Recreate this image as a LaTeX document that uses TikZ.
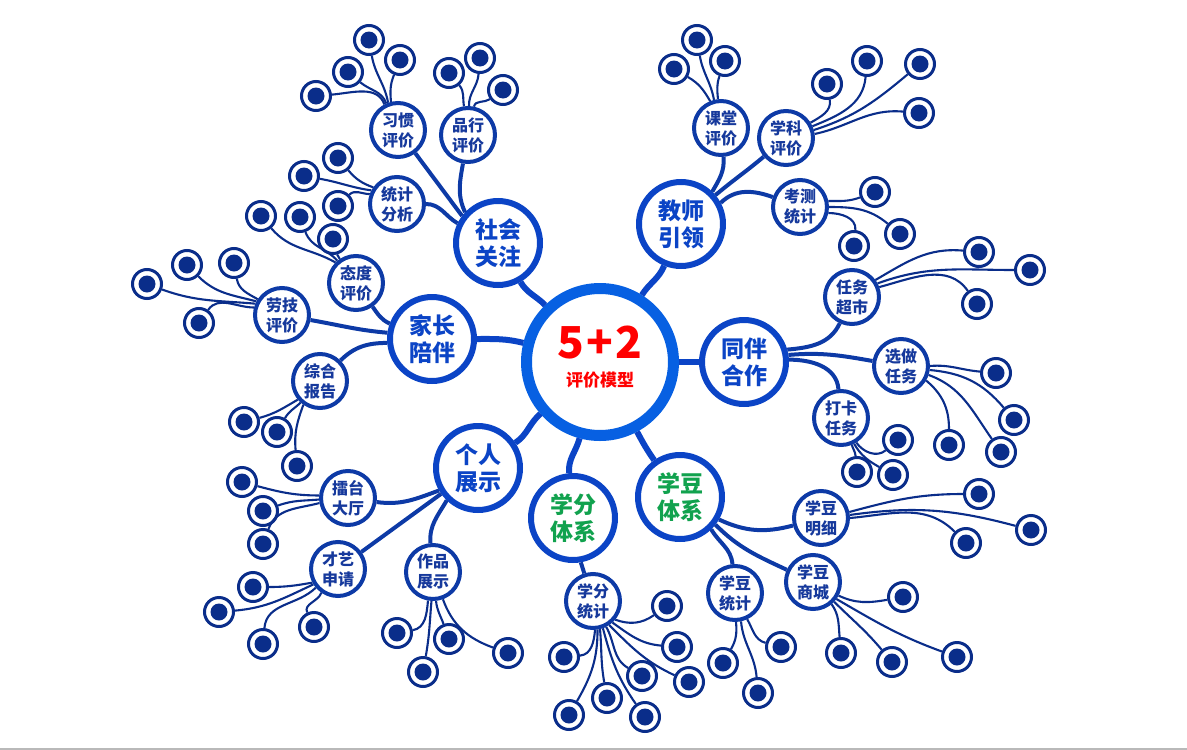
\documentclass[tikz,border=0pt]{standalone}
\usepackage{fontspec}
\setmainfont{Noto Sans CJK SC}
\definecolor{cring}{HTML}{0760E2}
\definecolor{lone}{HTML}{0B44C6}
\definecolor{ltwo}{HTML}{0D3AA6}
\definecolor{ltxt}{HTML}{16399C}
\definecolor{lfc}{HTML}{0A2D8A}
\definecolor{grn}{HTML}{11A24E}
\definecolor{redc}{HTML}{FF0000}
\tikzset{
 centern/.style={circle, draw=cring, line width=11pt, fill=white, minimum size=147pt, inner sep=0pt},
 lvone/.style={circle, draw=lone, line width=6pt, fill=white, minimum size=84pt, inner sep=0pt, align=center, text=lone, font=\fontsize{23}{27}\selectfont\bfseries},
 lvtwo/.style={circle, draw=ltwo, line width=4pt, fill=white, minimum size=54pt, inner sep=0pt, align=center, text=ltxt, font=\fontsize{16}{20}\selectfont\bfseries},
 leafn/.style={circle, draw=lfc, line width=3pt, fill=white, minimum size=29pt, inner sep=0pt, path picture={\fill[lfc] (path picture bounding box.center) circle (8.5pt);}},
 cone/.style={draw=lone, line width=6pt},
 ctwo/.style={draw=ltwo, line width=4pt},
 cthree/.style={draw=lfc, line width=2.1pt},
}
\newcommand\mkleaf[5]{\node[leafn] (#1) at (#2,-#3) {}; \draw[cthree] (#4) to[#5] (#1);}
\begin{document}
\begin{tikzpicture}[x=1pt,y=1pt]
\useasboundingbox (0,0) rectangle (1187,-750);
\draw[gray!55, line width=2pt] (0,-749) -- (1187,-749);
% centre
\node[centern] (c0) at (600,-362) {};
\node[text=redc, font=\fontsize{44}{44}\selectfont\bfseries] (c0a) at (600,-343) {5\kern2pt+\kern2pt2};
\node[text=redc, font=\fontsize{17}{20}\selectfont\bfseries] (c0b) at (600,-380) {评价模型};
% level 1
\node[lvone] (s1) at (498,-243) {社会\\关注};
\node[lvone] (f1) at (432,-339) {家长\\陪伴};
\node[lvone] (t1) at (681,-224) {教师\\引领};
\node[lvone] (w1) at (744,-362) {同伴\\合作};
\node[lvone] (p1) at (478,-468) {个人\\展示};
\node[lvone, text=grn] (x1) at (573,-518) {学分\\体系};
\node[lvone, text=grn] (b1) at (680,-497) {学豆\\体系};
\draw[cone] (c0) to[out=134,in=-60] (s1);
\draw[cone] (c0) to[out=166,in=0] (f1);
\draw[cone] (c0) to[out=58,in=-112] (t1);
\draw[cone] (c0) to[out=0,in=180] (w1);
\draw[cone] (c0) to[out=-139,in=34] (p1);
\draw[cone] (c0) to[out=-105,in=95] (x1);
\draw[cone] (c0) to[out=-62,in=125] (b1);
% level 2
\node[lvtwo] (h) at (398,-130) {习惯\\评价};
\node[lvtwo] (g) at (468,-135) {品行\\评价};
\node[lvtwo] (j) at (397,-204) {统计\\分析};
\node[lvtwo] (d) at (356,-283) {态度\\评价};
\node[lvtwo] (k) at (282,-315) {劳技\\评价};
\node[lvtwo] (z) at (320,-381) {综合\\报告};
\node[lvtwo] (r) at (348,-498) {擂台\\大厅};
\node[lvtwo] (a) at (338,-569) {才艺\\申请};
\node[lvtwo] (q) at (433,-572) {作品\\展示};
\node[lvtwo] (e) at (721,-128) {课堂\\评价};
\node[lvtwo] (m) at (786,-138) {学科\\评价};
\node[lvtwo] (kc) at (800,-207) {考测\\统计};
\node[lvtwo] (u) at (852,-297) {任务\\超市};
\node[lvtwo] (v) at (901,-366) {选做\\任务};
\node[lvtwo] (y) at (841,-418) {打卡\\任务};
\node[lvtwo] (n) at (821,-518) {学豆\\明细};
\node[lvtwo] (o) at (813,-582) {学豆\\商城};
\node[lvtwo] (i) at (735,-593) {学豆\\统计};
\node[lvtwo] (xf) at (593,-601) {学分\\统计};
\draw[ctwo] (s1.143) -- (h);
\draw[ctwo] (s1.137) to[out=115,in=-100] (g);
\draw[ctwo] (s1.154) to[out=150,in=0] (j);
\draw[ctwo] (f1.160) to[out=155,in=-55] (d);
\draw[ctwo] (f1.172) to[out=175,in=-10] (k);
\draw[ctwo] (f1.185) to[out=180,in=45] (z);
\draw[ctwo] (p1.-150) to[out=-160,in=-8] (r);
\draw[ctwo] (p1.-145) -- (a);
\draw[ctwo] (p1.-134) to[out=-120,in=95] (q);
\draw[ctwo] (t1.46) to[out=60,in=-85] (e);
\draw[ctwo] (t1.40) to[out=40,in=-140] (m);
\draw[ctwo] (t1.28) to[out=45,in=160] (kc);
\draw[ctwo] (w1.16) to[out=5,in=-115] (u);
\draw[ctwo] (w1.9) to[out=5,in=170] (v);
\draw[ctwo] (w1.3) to[out=0,in=95] (y);
\draw[ctwo] (x1.-80) -- (xf);
\draw[ctwo] (b1.-30) to[out=-25,in=-165] (n);
\draw[ctwo] (b1.-38) to[out=-45,in=155] (o);
\draw[ctwo] (b1.-46) to[out=-60,in=95] (i);
% leaves
\mkleaf{h1}{369}{40}{h.110}{out=100,in=-80}
\mkleaf{h2}{400}{60}{h.104}{out=95,in=-112}
\mkleaf{h3}{348}{72}{h.114}{out=108,in=-40}
\mkleaf{h4}{316}{96}{h.118}{out=110,in=5}
\mkleaf{g1}{449}{73}{g.98}{out=100,in=-50}
\mkleaf{g2}{480}{58}{g.88}{out=92,in=-95}
\mkleaf{g3}{503}{90}{g.78}{out=80,in=-145}
\mkleaf{j1}{338}{158}{j.145}{out=160,in=-50}
\mkleaf{j2}{304}{176}{j.152}{out=172,in=-10}
\mkleaf{j3}{338}{206}{j.160}{out=180,in=45}
\mkleaf{d1}{261}{216}{d.135}{out=150,in=-50}
\mkleaf{d2}{300}{217}{d.130}{out=130,in=-70}
\mkleaf{d3}{333}{239}{d.124}{out=110,in=-75}
\mkleaf{k1}{147}{284}{k.157}{out=175,in=-20}
\mkleaf{k2}{187}{265}{k.152}{out=165,in=-45}
\mkleaf{k3}{234}{263}{k.147}{out=150,in=-80}
\mkleaf{k4}{199}{323}{k.165}{out=180,in=55}
\mkleaf{z1}{244}{422}{z.-140}{out=-150,in=15}
\mkleaf{z2}{277}{432}{z.-132}{out=-135,in=60}
\mkleaf{z3}{297}{466}{z.-125}{out=-110,in=95}
\mkleaf{r1}{242}{482}{r.175}{out=180,in=-15}
\mkleaf{r2}{263}{511}{r.183}{out=185,in=20}
\mkleaf{r3}{263}{544}{r.190}{out=195,in=70}
\mkleaf{a1}{253}{587}{a.-152}{out=-170,in=0}
\mkleaf{a2}{219}{612}{a.-148}{out=-155,in=5}
\mkleaf{a3}{263}{644}{a.-140}{out=-135,in=85}
\mkleaf{a4}{314}{627}{a.-125}{out=-110,in=115}
\mkleaf{q1}{397}{633}{q.-100}{out=-95,in=10}
\mkleaf{q2}{423}{672}{q.-93}{out=-95,in=80}
\mkleaf{q3}{449}{639}{q.-84}{out=-85,in=110}
\mkleaf{q4}{508}{653}{q.-70}{out=-70,in=160}
\mkleaf{e1}{674}{69}{e.112}{out=120,in=-30}
\mkleaf{e2}{697}{40}{e.104}{out=100,in=-80}
\mkleaf{e3}{725}{61}{e.96}{out=95,in=-110}
\mkleaf{m1}{827}{84}{m.32}{out=30,in=-80}
\mkleaf{m2}{867}{61}{m.24}{out=22,in=-95}
\mkleaf{m3}{920}{64}{m.16}{out=18,in=-140}
\mkleaf{m4}{919}{113}{m.8}{out=12,in=175}
\mkleaf{kc1}{875}{192}{kc.12}{out=0,in=-160}
\mkleaf{kc2}{900}{234}{kc.0}{out=0,in=140}
\mkleaf{kc3}{854}{246}{kc.-12}{out=0,in=85}
\mkleaf{u1}{979}{252}{u.36}{out=30,in=175}
\mkleaf{u2}{1030}{270}{u.28}{out=20,in=180}
\mkleaf{u3}{977}{304}{u.20}{out=15,in=125}
\mkleaf{v1}{996}{373}{v.0}{out=5,in=175}
\mkleaf{v2}{1014}{420}{v.-8}{out=-5,in=130}
\mkleaf{v3}{1001}{452}{v.-18}{out=-20,in=125}
\mkleaf{v4}{949}{445}{v.-30}{out=-40,in=90}
\mkleaf{y1}{898}{440}{y.-58}{out=-55,in=-140}
\mkleaf{y2}{857}{472}{y.-68}{out=-75,in=95}
\mkleaf{y3}{893}{475}{y.-63}{out=-60,in=150}
\mkleaf{n1}{979}{494}{n.12}{out=15,in=180}
\mkleaf{n2}{1031}{530}{n.6}{out=8,in=165}
\mkleaf{n3}{966}{543}{n.0}{out=5,in=135}
\mkleaf{o1}{903}{597}{o.-28}{out=-25,in=-170}
\mkleaf{o2}{841}{653}{o.-50}{out=-55,in=95}
\mkleaf{o3}{892}{662}{o.-43}{out=-45,in=130}
\mkleaf{o4}{957}{657}{o.-36}{out=-30,in=160}
\mkleaf{i1}{723}{663}{i.-88}{out=-85,in=60}
\mkleaf{i2}{758}{693}{i.-78}{out=-85,in=95}
\mkleaf{i3}{781}{647}{i.-65}{out=-60,in=165}
\mkleaf{xf1}{564}{657}{xf.-86}{out=-95,in=5}
\mkleaf{xf2}{569}{715}{xf.-81}{out=-90,in=60}
\mkleaf{xf3}{607}{698}{xf.-76}{out=-85,in=100}
\mkleaf{xf4}{645}{717}{xf.-70}{out=-75,in=125}
\mkleaf{xf5}{642}{676}{xf.-63}{out=-60,in=150}
\mkleaf{xf6}{689}{682}{xf.-56}{out=-45,in=155}
\mkleaf{xf7}{677}{647}{xf.-48}{out=-35,in=175}
\mkleaf{xf8}{667}{606}{xf.-40}{out=-20,in=-145}
\end{tikzpicture}
\end{document}
